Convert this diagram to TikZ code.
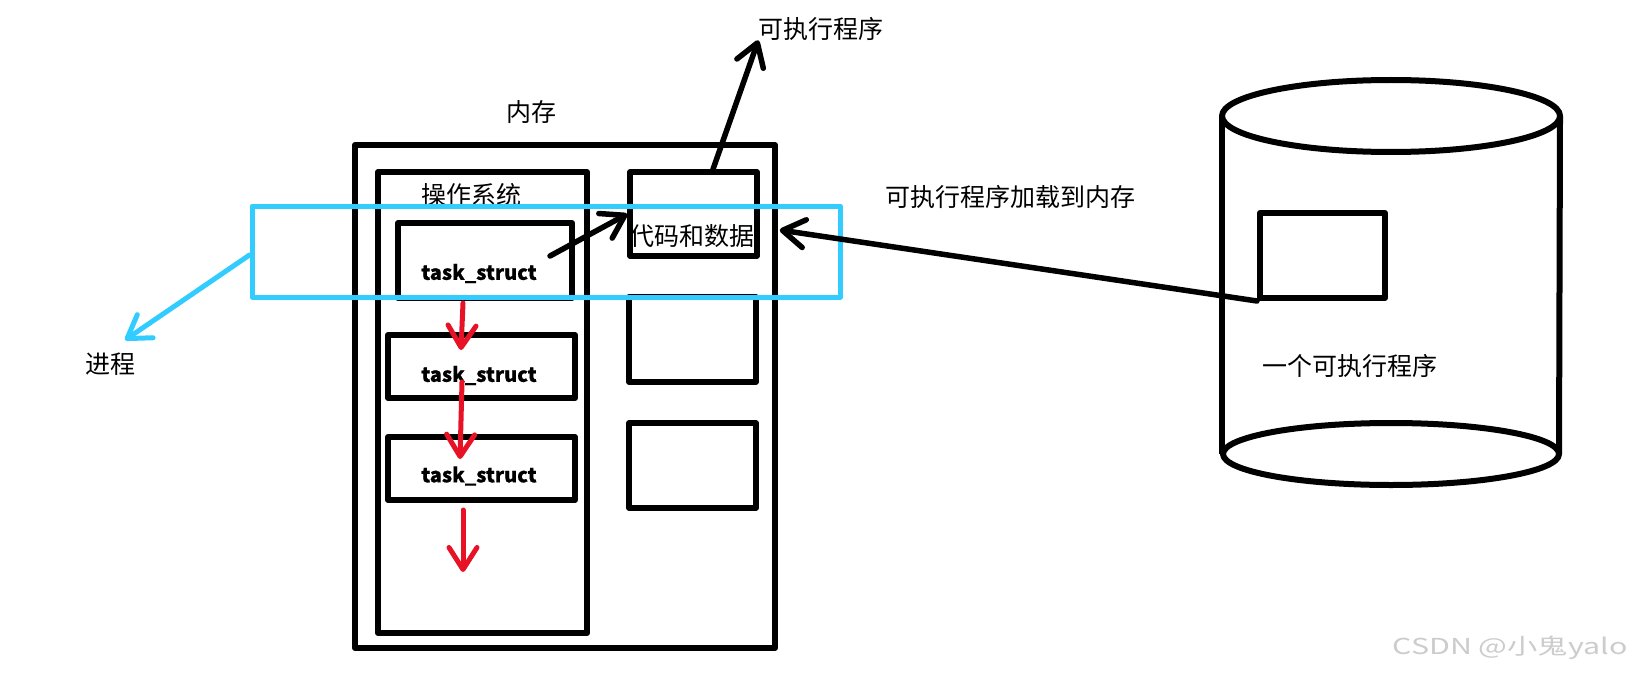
\documentclass[tikz,border=0pt]{standalone}
\usepackage{fontspec}
\setmainfont{Noto Sans CJK SC}[BoldFeatures={FakeBold=0.6}]
\newfontfamily\wmfont{Noto Sans CJK SC}[FakeStretch=1.38]
\usetikzlibrary{arrows.meta,positioning}
\definecolor{redline}{RGB}{232,18,38}
\definecolor{blueline}{RGB}{51,204,255}

\begin{document}
\begin{tikzpicture}[
            x=1pt, y=-1pt,
            line join=round,
            font=\fontsize{25}{30}\selectfont,
            box/.style={rectangle, draw=black, line width=6pt, inner sep=0pt},
            taskbox/.style={box, minimum width=187pt, minimum height=63pt},
            databox/.style={box, line width=5.5pt, minimum width=127pt, minimum height=85pt},
            txt/.style={inner sep=0pt, text=black},
            tasktxt/.style={txt, font=\fontsize{20}{24}\selectfont\bfseries},
            arrow/.style={line width=5.5pt, line cap=round, -{Straight Barb[length=22pt, width=28pt, round]}},
            redarrow/.style={arrow, line width=5pt, draw=redline},
            bluearrow/.style={arrow, line width=5pt, draw=blueline}
        ]
        \useasboundingbox (0,0) rectangle (1632,682);

        % Memoria
        \node (mem) [box, minimum width=420pt, minimum height=503pt] at (565,396.5) {};
        \node (memlabel) [txt] at (531,112) {内存};

        % Sistema operativo e task_struct
        \node (os) [box, minimum width=209pt, minimum height=461pt] at (482.5,402.5) {};
        \node (oslabel) [txt] at (471.5,195) {操作系统};

        \node (t1) [box, minimum width=174pt, minimum height=75pt] at (485,260.5) {};
        \node (t1label) [tasktxt] at (479,273.5) {task\_struct};
        \node (t2) [taskbox] at (481.5,366.5) {};
        \node (t2label) [tasktxt] at (479,375.5) {task\_struct};
        \node (t3) [taskbox] at (481.5,468.5) {};
        \node (t3label) [tasktxt] at (479,476) {task\_struct};

        % Codice e dati
        \node (code) [databox, minimum height=84pt] at (693.5,214) {};
        \node (codelabel) [txt] at (692,236) {代码和数据};
        \node (data2) [databox] at (692.5,339.5) {};
        \node (data3) [databox] at (692.5,465.5) {};

        % Disco
        \draw [line width=6pt] (1391,116) ellipse [x radius=169, y radius=36];
        \draw [line width=6pt] (1391,454) ellipse [x radius=168, y radius=31];
        \draw [line width=6pt] (1222,116) -- (1222,454);
        \draw [line width=6pt] (1560,116) -- (1559,454);
        \node (exe) [box, minimum width=125pt, minimum height=85pt] at (1322.5,255.5) {};
        \node (exelabel) [txt] at (1350,366) {一个可执行程序};

        % Etichette
        \node (exetop) [txt] at (821,28.5) {可执行程序};
        \node (loadlabel) [txt] at (1010.5,197) {可执行程序加载到内存};
        \node (jc) [txt] at (110,364) {进程};
        \coordinate (jctip) at (125,340);
        \coordinate (r3tip) at (463,572);

        % Processo
        \node (proc) [rectangle, draw=blueline, line width=5pt, minimum width=588pt, minimum height=91pt] at (546,251.5) {};

        % Collegamenti
        \draw [arrow] ([xshift=19.5pt]code.north) -- (exetop.south west);
        \draw [arrow] ([xshift=-25pt, yshift=4.5pt]t1.east) -- (code.west);
        \draw [arrow] (exe.south west) -- ([xshift=20pt, yshift=-16pt]code.east);

        \draw [redarrow] ([xshift=-22pt, yshift=-2pt]t1.south) -- ([xshift=-20.5pt, yshift=-18pt]t2.north);
        \draw [redarrow] ([xshift=-19.5pt, yshift=-15.5pt]t2.center) -- ([xshift=-21.5pt, yshift=-25pt]t3.north);
        \draw [redarrow] ([xshift=-18.5pt, yshift=-7pt]t3.south) -- (r3tip);

        \draw [bluearrow] ([yshift=-3.5pt]proc.west) -- (jctip);

        % Watermark
        \node (wm) [txt, text=gray!40, font=\wmfont\fontsize{22}{26}\selectfont] at (1510,648) {CSDN @小鬼yalo};

    \end{tikzpicture}
\end{document}
